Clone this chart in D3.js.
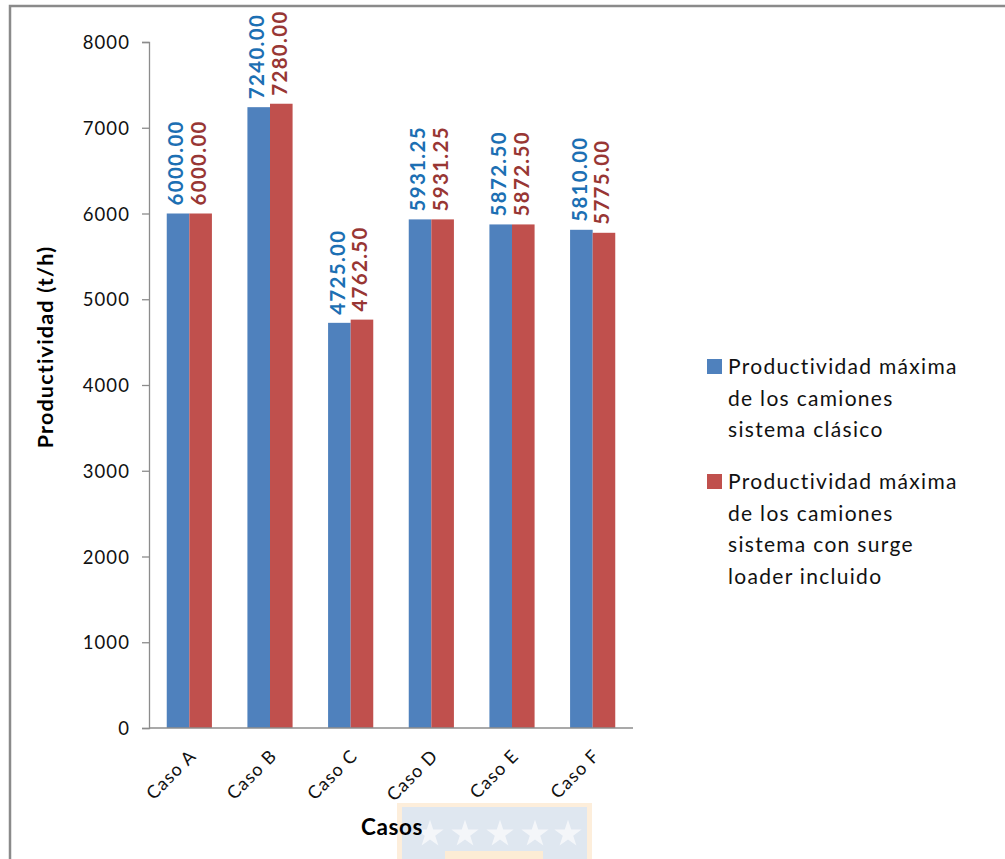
<!DOCTYPE html>
<html><head><meta charset="utf-8">
<script src="https://d3js.org/d3.v7.min.js"></script>
<style>body{margin:0;background:#fff}svg{display:block}</style>
</head><body>
<script>
const categories = ["Caso A","Caso B","Caso C","Caso D","Caso E","Caso F"];
const clasico = [6000.00, 7240.00, 4725.00, 5931.25, 5872.50, 5810.00];
const surge = [6000.00, 7280.00, 4762.50, 5931.25, 5872.50, 5775.00];
const seriesNames = [
  ["Productividad máxima","de los camiones","sistema clásico"],
  ["Productividad máxima","de los camiones","sistema con surge","loader incluido"]
];
const yTicks = [0,1000,2000,3000,4000,5000,6000,7000,8000];
const colors = ["#4F81BD","#C0504D"];
const labelColors = ["#1C6FB3","#983634"];
const FONT = "Lato, 'Open Sans', sans-serif";

const W = 1005, H = 859;
const svg = d3.select("body").append("svg").attr("width", W).attr("height", H);

// frame
svg.append("rect").attr("x",10).attr("y",6).attr("width",1100).attr("height",1000)
  .attr("fill","none").attr("stroke","#8a8a8a").attr("stroke-width",2.5);

// watermark
const wm = svg.append("g").attr("opacity",0.75);
wm.append("rect").attr("x",397).attr("y",803).attr("width",195).attr("height",70).attr("fill","#fde9cf");
wm.append("rect").attr("x",402).attr("y",807).attr("width",185).attr("height",70).attr("fill","#d5dfec");
wm.append("rect").attr("x",445).attr("y",851).attr("width",98).attr("height",20).attr("fill","#fbe6c8");
const star = d3.symbol().type(d3.symbolStar).size(230);
[430,465,500,535,568].forEach(cx=>{
  wm.append("path").attr("d",star()).attr("transform",`translate(${cx},834)`).attr("fill","#f1f4f8");
});

const x = d3.scaleBand().domain(categories).range([149, 633]).padding(0);
const y = d3.scaleLinear().domain([0,8000]).range([728, 42]);
const bw = x.bandwidth()*0.28;

// y axis
const yAxis = svg.append("g").attr("transform","translate(149,0)")
  .call(d3.axisLeft(y).tickValues(yTicks).tickSize(7).tickPadding(12).tickFormat(d3.format("d")));
yAxis.select(".domain").attr("stroke","#8c8c8c").attr("stroke-width",1.3);
yAxis.selectAll(".tick line").attr("stroke","#8c8c8c").attr("stroke-width",1.3);
yAxis.selectAll(".tick text").attr("font-family",FONT).attr("font-size",18.5)
  .attr("letter-spacing","1.1px").attr("fill","#111").attr("dy","0.36em");

// bars
const groups = svg.append("g");
[clasico, surge].forEach((vals, si)=>{
  groups.selectAll(".b"+si).data(vals).enter().append("rect")
    .attr("x",(d,i)=>x(categories[i]) + x.bandwidth()/2 - bw + si*bw)
    .attr("y",d=>y(d)).attr("width",bw).attr("height",d=>y(0)-y(d))
    .attr("fill",colors[si]);
});

// x axis line
svg.append("line").attr("x1",149).attr("x2",633).attr("y1",y(0)).attr("y2",y(0))
  .attr("stroke","#8c8c8c").attr("stroke-width",1.3);

// data labels
[clasico, surge].forEach((vals, si)=>{
  vals.forEach((d,i)=>{
    const cx = x(categories[i]) + x.bandwidth()/2 - bw/2 + si*bw - 2;
    const yy = y(d) - 8;
    svg.append("text").attr("transform",`translate(${cx},${yy}) rotate(-90)`)
      .attr("text-anchor","start").attr("dy","0.36em")
      .attr("font-family",FONT).attr("font-weight","bold").attr("font-size",20.5)
      .attr("letter-spacing","1.3px")
      .attr("fill",labelColors[si]).text(d3.format(".2f")(d));
  });
});

// x tick labels
categories.forEach(c=>{
  const cx = x(c) + x.bandwidth()/2 + 8;
  svg.append("text").attr("transform",`translate(${cx},757) rotate(-45)`)
    .attr("text-anchor","end").attr("font-family",FONT).attr("font-size",18)
    .attr("letter-spacing","1.1px").attr("fill","#111").text(c);
});

// axis titles
svg.append("text").attr("transform","translate(53,347) rotate(-90)").attr("text-anchor","middle")
  .attr("font-family",FONT).attr("font-weight","bold").attr("font-size",21.5)
  .attr("letter-spacing","1.2px").attr("fill","#000").text("Productividad (t/h)");
svg.append("text").attr("x",392).attr("y",835).attr("text-anchor","middle")
  .attr("font-family",FONT).attr("font-weight","bold").attr("font-size",22.5)
  .attr("letter-spacing","0.6px").attr("fill","#000").text("Casos");

// legend
const legY = [374, 489];
seriesNames.forEach((lines, si)=>{
  svg.append("rect").attr("x",707).attr("y",legY[si]-15).attr("width",15).attr("height",15).attr("fill",colors[si]);
  lines.forEach((t,li)=>{
    svg.append("text").attr("x",728).attr("y",legY[si]+li*31.7)
      .attr("font-family",FONT).attr("font-size",21).attr("letter-spacing","1.3px")
      .attr("fill","#111").text(t);
  });
});
</script>
</body></html>
